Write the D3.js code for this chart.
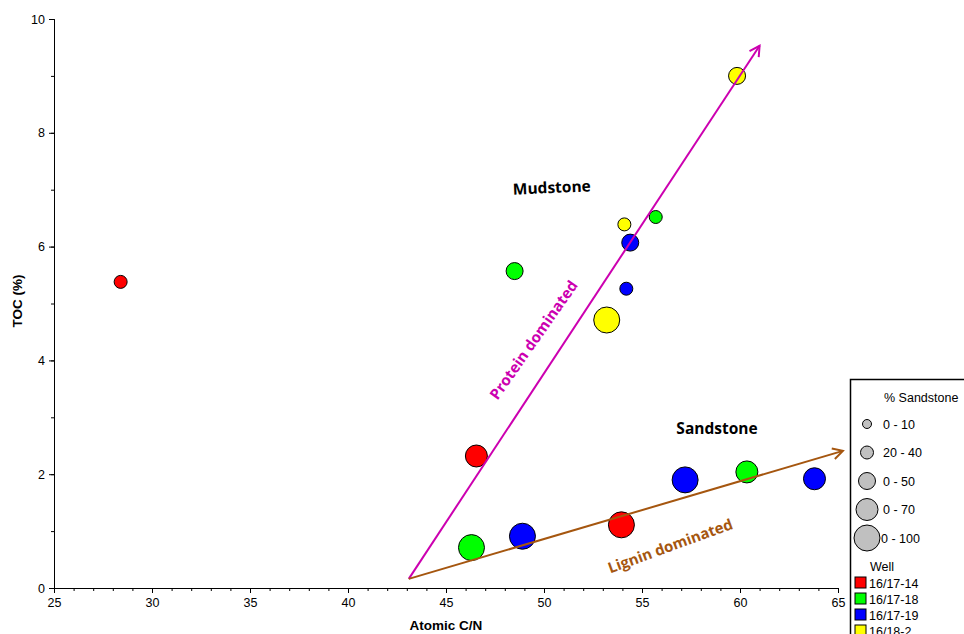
<!DOCTYPE html>
<html>
<head>
<meta charset="utf-8">
<script src="https://cdn.jsdelivr.net/npm/d3@7/dist/d3.min.js"></script>
<style>
  html, body { margin: 0; padding: 0; background: #fff; }
  svg { display: block; }
  text { font-family: "Liberation Sans", Arial, sans-serif; }
  .note { font-family: "Open Sans", "DejaVu Sans", sans-serif; font-weight: bold; }
</style>
</head>
<body>
<svg id="chart" width="964" height="634"></svg>
<script>
// Atomic C/N vs TOC, one entry per sample
const atomicCN = [28.4, 59.85, 48.5, 54.1, 55.7, 54.4, 54.2, 53.2, 46.55, 46.3, 48.9, 53.95, 57.2, 60.35, 63.8];
const tocPct   = [5.38, 9.0, 5.57, 6.39, 6.52, 6.07, 5.26, 4.71, 2.32, 0.71, 0.91, 1.11, 1.90, 2.04, 1.92];
const sampleWell = ["16/17-14", "16/18-2", "16/17-18", "16/18-2", "16/17-18", "16/17-19", "16/17-19", "16/18-2",
                    "16/17-14", "16/17-18", "16/17-19", "16/17-14", "16/17-19", "16/17-18", "16/17-19"];
const sampleSand = ["20 - 40", "0 - 50", "0 - 50", "20 - 40", "20 - 40", "0 - 50", "20 - 40", "0 - 100",
                    "0 - 70", "0 - 100", "0 - 100", "0 - 100", "0 - 100", "0 - 70", "0 - 70"];

const wells = ["16/17-14", "16/17-18", "16/17-19", "16/18-2"];
const wellColors = ["#ff0000", "#00ff00", "#0000ff", "#ffff00"];
const sandClasses = ["0 - 10", "20 - 40", "0 - 50", "0 - 70", "0 - 100"];
const sandRadii = [4.5, 6.5, 8.5, 11, 13];

const xTicks = [25, 30, 35, 40, 45, 50, 55, 60, 65];
const yTicks = [0, 2, 4, 6, 8, 10];

// Trend arrows: [x0, y0, x1, y1] in data units
const proteinTrend = [43.1, 0.16, 61.0, 9.53];
const ligninTrend  = [43.1, 0.16, 65.25, 2.41];

const svg = d3.select("#chart");
const x = d3.scaleLinear().domain([25, 65]).range([54, 838]);
const y = d3.scaleLinear().domain([0, 10]).range([588, 19]);
const color = d3.scaleOrdinal().domain(wells).range(wellColors);
const radius = d3.scaleOrdinal().domain(sandClasses).range(sandRadii);

// Axes: major ticks with labels, minor ticks between
const xAxisG = svg.append("g").attr("transform", `translate(0,${y(0)})`);
xAxisG.call(d3.axisBottom(x).tickValues(d3.range(25, 66, 1)).tickSize(3).tickFormat(""));
const xMajor = svg.append("g").attr("transform", `translate(0,${y(0)})`)
  .call(d3.axisBottom(x).tickValues(xTicks).tickSize(5).tickPadding(5).tickFormat(d3.format("d")));
xMajor.selectAll("text").attr("font-size", 12.5).attr("fill", "#000");

const yAxisG = svg.append("g").attr("transform", `translate(${x(25)},0)`);
yAxisG.call(d3.axisLeft(y).tickValues(d3.range(0, 10.1, 1)).tickSize(3).tickFormat(""));
const yMajor = svg.append("g").attr("transform", `translate(${x(25)},0)`)
  .call(d3.axisLeft(y).tickValues(yTicks).tickSize(5).tickPadding(4).tickFormat(d3.format("d")));
yMajor.selectAll("text").attr("font-size", 12.5).attr("fill", "#000");
svg.selectAll(".domain").attr("stroke", "#000");
svg.selectAll(".tick line").attr("stroke", "#000");

svg.append("text").attr("x", 446).attr("y", 630)
  .attr("text-anchor", "middle").attr("font-size", 13.5).attr("font-weight", "bold")
  .text("Atomic C/N");
svg.append("text").attr("transform", "translate(22,301) rotate(-90)")
  .attr("text-anchor", "middle").attr("font-size", 13.5).attr("font-weight", "bold")
  .text("TOC (%)");

// Sample points
const samples = atomicCN.map((cn, i) => ({ cn, toc: tocPct[i], well: sampleWell[i], sand: sampleSand[i] }));
svg.append("g").selectAll("circle").data(samples).join("circle")
  .attr("cx", d => x(d.cn)).attr("cy", d => y(d.toc))
  .attr("r", d => radius(d.sand))
  .attr("fill", d => color(d.well))
  .attr("stroke", "#000").attr("stroke-width", 1);

// Arrow markers
const defs = svg.append("defs");
function marker(id, col) {
  defs.append("marker").attr("id", id)
    .attr("viewBox", "-12 -7 14 14").attr("refX", 0).attr("refY", 0)
    .attr("markerWidth", 14).attr("markerHeight", 14)
    .attr("markerUnits", "userSpaceOnUse").attr("orient", "auto")
    .append("path").attr("d", "M-10,-5.5 L0,0 L-10,5.5")
    .attr("fill", "none").attr("stroke", col).attr("stroke-width", 2);
}
const proteinCol = "#cc00b0";
const ligninCol = "#a5560f";
marker("arrP", proteinCol);
marker("arrL", ligninCol);

svg.append("line")
  .attr("x1", x(proteinTrend[0])).attr("y1", y(proteinTrend[1]))
  .attr("x2", x(proteinTrend[2])).attr("y2", y(proteinTrend[3]))
  .attr("stroke", proteinCol).attr("stroke-width", 2).attr("marker-end", "url(#arrP)");
svg.append("line")
  .attr("x1", x(ligninTrend[0])).attr("y1", y(ligninTrend[1]))
  .attr("x2", x(ligninTrend[2])).attr("y2", y(ligninTrend[3]))
  .attr("stroke", ligninCol).attr("stroke-width", 2).attr("marker-end", "url(#arrL)");

// Annotations
svg.append("text").attr("class", "note")
  .attr("transform", "translate(552,193) rotate(-2.5)")
  .attr("text-anchor", "middle").attr("font-size", 15.5).attr("fill", "#000")
  .text("Mudstone");
svg.append("text").attr("class", "note")
  .attr("transform", "translate(717,434)")
  .attr("text-anchor", "middle").attr("font-size", 15.5).attr("fill", "#000")
  .text("Sandstone");
svg.append("text").attr("class", "note")
  .attr("transform", "translate(538,343) rotate(-55)")
  .attr("text-anchor", "middle").attr("font-size", 15).attr("fill", proteinCol)
  .text("Protein dominated");
svg.append("text").attr("class", "note")
  .attr("transform", "translate(672,551) rotate(-20)")
  .attr("text-anchor", "middle").attr("font-size", 15).attr("fill", ligninCol)
  .text("Lignin dominated");

// Legend
const lg = svg.append("g");
lg.append("rect").attr("x", 850.5).attr("y", 379.5).attr("width", 140).attr("height", 300)
  .attr("fill", "#fff").attr("stroke", "#000").attr("stroke-width", 1.5);
lg.append("text").attr("x", 884).attr("y", 402).attr("font-size", 12.5).text("% Sandstone");
const sizeRows = lg.selectAll(".size").data(sandClasses).join("g")
  .attr("transform", (d, i) => `translate(867,${424 + i * 28.5})`);
sizeRows.append("circle").attr("r", d => radius(d))
  .attr("fill", "#c0c0c0").attr("stroke", "#000").attr("stroke-width", 1);
sizeRows.append("text").attr("x", (d, i) => i === 4 ? 14 : 16).attr("y", 4.5)
  .attr("font-size", 12.5).text(d => d);

lg.append("text").attr("x", 870).attr("y", 571).attr("font-size", 12.5).text("Well");
const wellRows = lg.selectAll(".well").data(wells).join("g")
  .attr("transform", (d, i) => `translate(855,${577 + i * 16})`);
wellRows.append("rect").attr("width", 11).attr("height", 11)
  .attr("fill", d => color(d)).attr("stroke", "#000").attr("stroke-width", 1);
wellRows.append("text").attr("x", 14).attr("y", 10.5).attr("font-size", 12.5).text(d => d);
</script>
</body>
</html>
